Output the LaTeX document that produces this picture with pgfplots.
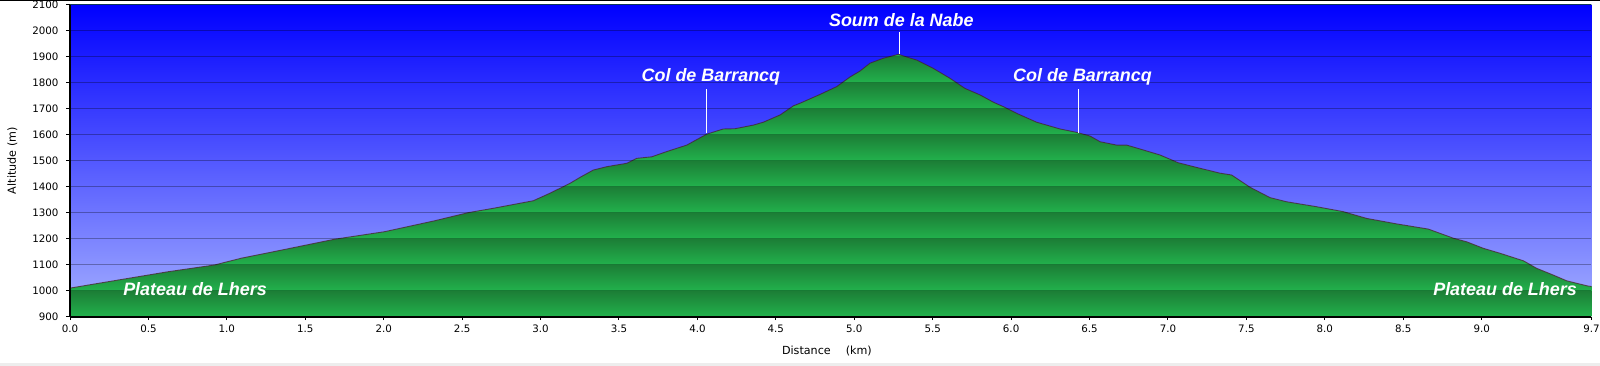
\documentclass[border=0pt]{standalone}
\usepackage{pgfplots}
\pgfplotsset{compat=1.18}
\usepackage{pgfplotstable}
\usepackage{fontspec}
\setmainfont{DejaVu Sans}
\newfontfamily\annfont{Liberation Sans}
\newcommand\tf{\fontsize{10.3}{12.5}\selectfont}
\newcommand\lf{\fontsize{11.2}{13.5}\selectfont}
\definecolor{gl}{RGB}{34,177,76}
\definecolor{gd}{RGB}{28,126,54}
\definecolor{skytop}{RGB}{0,0,255}
\definecolor{skybot}{RGB}{150,160,255}
\definecolor{outline}{RGB}{70,35,40}
\pgfdeclareverticalshading{bands}{100bp}{color(0bp)=(gl); color(25bp)=(gl);
 color(29.15bp)=(gd); color(29.18bp)=(gl); color(33.32bp)=(gd); color(33.35bp)=(gl);
 color(37.49bp)=(gd); color(37.51bp)=(gl); color(41.65bp)=(gd); color(41.68bp)=(gl);
 color(45.82bp)=(gd); color(45.85bp)=(gl); color(49.99bp)=(gd); color(50.01bp)=(gl);
 color(54.15bp)=(gd); color(54.18bp)=(gl); color(58.32bp)=(gd); color(58.35bp)=(gl);
 color(62.49bp)=(gd); color(62.51bp)=(gl); color(66.65bp)=(gd); color(66.68bp)=(gl);
 color(70.82bp)=(gd); color(70.85bp)=(gl); color(75bp)=(gd); color(100bp)=(gd)}

\pgfplotstableread{
x y
0.000 1010
0.306 1041
0.625 1073
0.922 1099
1.092 1125
1.347 1156
1.687 1198
2.006 1227
2.325 1269
2.537 1300
2.699 1317
2.954 1346
3.060 1375
3.188 1413
3.252 1436
3.336 1464
3.422 1477
3.549 1490
3.613 1509
3.709 1515
3.804 1535
3.932 1560
4.059 1602
4.165 1622
4.240 1623
4.357 1637
4.420 1648
4.527 1676
4.612 1711
4.654 1721
4.782 1755
4.888 1785
4.973 1822
5.037 1845
5.100 1875
5.185 1894
5.281 1909
5.398 1887
5.504 1855
5.610 1817
5.706 1778
5.802 1753
5.887 1725
5.961 1705
6.036 1682
6.163 1648
6.312 1622
6.418 1609
6.503 1595
6.567 1573
6.673 1560
6.737 1560
6.822 1545
6.949 1522
7.066 1492
7.204 1471
7.332 1452
7.406 1445
7.523 1398
7.651 1358
7.757 1342
7.948 1323
8.118 1304
8.267 1278
8.458 1257
8.660 1237
8.819 1202
8.905 1188
9.011 1163
9.117 1144
9.266 1115
9.351 1086
9.457 1060
9.542 1038
9.670 1019
9.700 1016
}\prof

\begin{document}
\tf
\begin{tikzpicture}
\useasboundingbox (0,0) rectangle (1600bp,366bp);
\fill[black] (0,365bp) rectangle (1600bp,366bp);
\fill[black!7] (0,0) rectangle (1600bp,3bp);
\begin{axis}[
  at={(70bp,49.3bp)}, anchor=south west,
  scale only axis, width=1521.5bp, height=312bp,
  xmin=0, xmax=9.7, ymin=900, ymax=2100,
  xtick={0,0.5,1,1.5,2,2.5,3,3.5,4,4.5,5,5.5,6,6.5,7,7.5,8,8.5,9,9.7},
  xticklabels={0.0,0.5,1.0,1.5,2.0,2.5,3.0,3.5,4.0,4.5,5.0,5.5,6.0,6.5,7.0,7.5,8.0,8.5,9.0,9.7},
  ytick={900,1000,1100,1200,1300,1400,1500,1600,1700,1800,1900,2000,2100},
  yticklabels={900,1000,1100,1200,1300,1400,1500,1600,1700,1800,1900,2000,2100},
  every tick label/.append style={font=\tf, text=black},
  yticklabel style={xshift=-4.5bp},
  xticklabel style={yshift=-1bp},
  axis x line*=bottom, axis y line*=left,
  xtick pos=left, ytick pos=left,
  axis line style={-, black, line width=1.8bp},
  tick align=outside, major tick length=3.5bp,
  tick style={black, line width=1bp},
  ymajorgrids, major grid style={black, opacity=0.3, line width=1bp},
  axis on top,
  axis background/.style={shade, shading=bands},
  xlabel={Distance\hspace{15bp}(km)},
  ylabel={Altitude (m)},
  every axis x label/.style={at={(axis description cs:0.4975,-0.109)}, anchor=center, font=\lf},
  every axis y label/.style={at={(axis description cs:-0.0379,0.5)}, rotate=90, anchor=center, font=\lf},
]
\addplot[draw=none, top color=skytop, bottom color=skybot] table {\prof}
  -- (rel axis cs:1,1) -- (rel axis cs:0,1) -- cycle;
\addplot[color=outline, opacity=0.75, line width=0.9bp] table {\prof};
\coordinate (pl1) at (axis cs:0.797,983);
\coordinate (pl2) at (axis cs:9.149,983);
\coordinate (sn) at (axis cs:5.30,2015);
\coordinate (c1) at (axis cs:4.086,1804);
\coordinate (c2) at (axis cs:6.455,1804);
\coordinate (sna) at (axis cs:5.287,1910);
\coordinate (snb) at (axis cs:5.287,1995);
\coordinate (c1a) at (axis cs:4.057,1606);
\coordinate (c1b) at (axis cs:4.057,1775);
\coordinate (c2a) at (axis cs:6.428,1608);
\coordinate (c2b) at (axis cs:6.428,1775);
\end{axis}
\draw[white, line width=1.1bp] (sna) -- (snb);
\draw[white, line width=1.1bp] (c1a) -- (c1b);
\draw[white, line width=1.1bp] (c2a) -- (c2b);
\begin{scope}[every node/.style={text=white, anchor=base, inner sep=0pt, font=\annfont\bfseries\itshape\fontsize{18}{20}\selectfont}]
\node at (pl1) {Plateau de Lhers};
\node at (pl2) {Plateau de Lhers};
\node at (sn) {Soum de la Nabe};
\node at (c1) {Col de Barrancq};
\node at (c2) {Col de Barrancq};
\end{scope}
\end{tikzpicture}
\end{document}
